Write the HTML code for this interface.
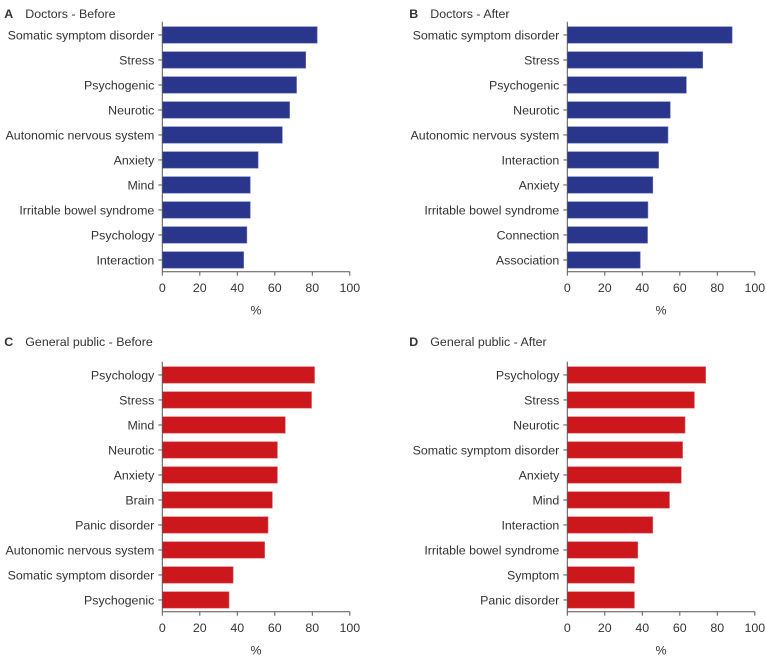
<!DOCTYPE html>
<html><head><meta charset="utf-8"><style>
body{margin:0;background:#fff;}
svg text{font-family:"Liberation Sans",Arial,sans-serif;fill:#333;}
</style></head><body>
<svg id="c" width="766" height="656" xmlns="http://www.w3.org/2000/svg"></svg>
<script>
const catsA=["Somatic symptom disorder","Stress","Psychogenic","Neurotic","Autonomic nervous system","Anxiety","Mind","Irritable bowel syndrome","Psychology","Interaction"];
const valsA=[82.6,76.5,71.6,67.9,64,51.1,46.9,46.9,45.1,43.4];
const catsB=["Somatic symptom disorder","Stress","Psychogenic","Neurotic","Autonomic nervous system","Interaction","Anxiety","Irritable bowel syndrome","Connection","Association"];
const valsB=[87.9,72.2,63.5,54.9,53.7,48.7,45.6,43,42.8,38.9];
const catsC=["Psychology","Stress","Mind","Neurotic","Anxiety","Brain","Panic disorder","Autonomic nervous system","Somatic symptom disorder","Psychogenic"];
const valsC=[81.2,79.6,65.6,61.4,61.4,58.7,56.4,54.6,37.8,35.6];
const catsD=["Psychology","Stress","Neurotic","Somatic symptom disorder","Anxiety","Mind","Interaction","Irritable bowel syndrome","Symptom","Panic disorder"];
const valsD=[73.8,67.8,62.8,61.5,60.8,54.5,45.6,37.6,35.8,35.8];
const ticks=[0,20,40,60,80,100];
const titles=["Doctors - Before","Doctors - After","General public - Before","General public - After"];
const letters=["A","B","C","D"];

const NS="http://www.w3.org/2000/svg";
const svg=document.getElementById('c');
function mk(t,a,p){const e=document.createElementNS(NS,t);for(const k in a)e.setAttribute(k,a[k]);(p||svg).appendChild(e);return e;}
const FS=12.4;
const panels=[
 {x0:162.3,top:26.7,cats:catsA,vals:valsA,fill:"#2a368c",stroke:"#6b74b8",ty:8},
 {x0:567.3,top:26.7,cats:catsB,vals:valsB,fill:"#2a368c",stroke:"#6b74b8",ty:8},
 {x0:162.3,top:366.7,cats:catsC,vals:valsC,fill:"#cc171d",stroke:"#e06a6e",ty:336},
 {x0:567.3,top:366.7,cats:catsD,vals:valsD,fill:"#cc171d",stroke:"#e06a6e",ty:336}];
panels.forEach((p,i)=>{
 const g=mk('g',{});
 
 
 const W=187.5, pitch=25, bh=16.5;
 const xs=v=>p.x0+v/100*W;
 const ys=j=>p.top+j*pitch;
 const tx0=p.x0-158;
 const L=mk('text',{x:tx0,y:p.ty+10,'font-size':FS,'font-weight':'bold'},g);L.textContent=letters[i];
 
 const T=mk('text',{x:tx0+21,y:p.ty+10,'font-size':FS},g);T.textContent=titles[i];
 
 const axB=ys(9)+bh+3.5;
 p.cats.forEach((c,j)=>{
  const r=mk('rect',{x:xs(0),y:ys(j),width:xs(p.vals[j])-xs(0),height:bh,fill:p.fill,stroke:p.stroke,'stroke-width':0.6},g);
  
  mk('line',{x1:p.x0-4,x2:p.x0,y1:ys(j)+bh/2,y2:ys(j)+bh/2,stroke:'#555'},g);
  const t=mk('text',{x:p.x0-8,y:ys(j)+bh/2+4.3,'font-size':FS,'text-anchor':'end'},g);t.textContent=c;
  
 });
 const ya=mk('line',{x1:p.x0,x2:p.x0,y1:p.top-5,y2:axB,stroke:'#555'},g);
 
 const xa=mk('line',{x1:p.x0,x2:xs(100),y1:axB,y2:axB,stroke:'#555'},g);
 
 ticks.forEach(v=>{
  mk('line',{x1:xs(v),x2:xs(v),y1:axB,y2:axB+4,stroke:'#555'},g);
  const t=mk('text',{x:xs(v),y:axB+20.5,'font-size':FS,'text-anchor':'middle'},g);t.textContent=v;
  
 });
 const xt=mk('text',{x:xs(50),y:axB+43,'font-size':FS,'text-anchor':'middle'},g);xt.textContent='%';
 
});
</script>
</body></html>
